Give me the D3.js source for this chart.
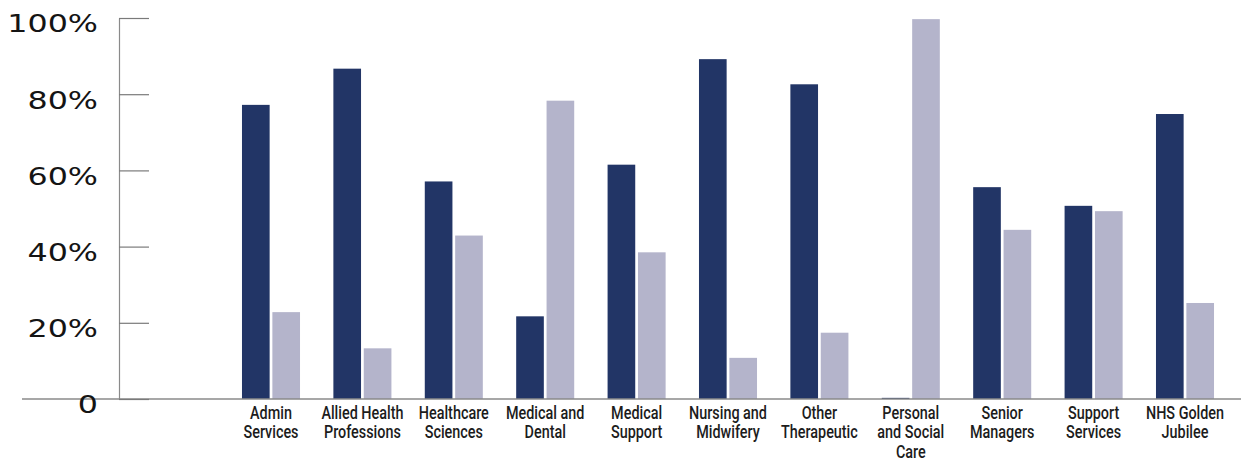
<!DOCTYPE html>
<html>
<head>
<meta charset="utf-8">
<script src="https://cdn.jsdelivr.net/npm/d3@7"></script>
<style>
  html, body { margin: 0; padding: 0; background: #fff; }
  svg { display: block; }
</style>
</head>
<body>
<svg id="chart" width="1241" height="462"></svg>
<script>
// Staff groups and their two percentage shares
const categories = [
  "Admin Services", "Allied Health Professions", "Healthcare Sciences",
  "Medical and Dental", "Medical Support", "Nursing and Midwifery",
  "Other Therapeutic", "Personal and Social Care", "Senior Managers",
  "Support Services", "NHS Golden Jubilee"
];
// How each category name is broken across lines under the axis
const categoryLines = [
  ["Admin", "Services"], ["Allied Health", "Professions"], ["Healthcare", "Sciences"],
  ["Medical and", "Dental"], ["Medical", "Support"], ["Nursing and", "Midwifery"],
  ["Other", "Therapeutic"], ["Personal", "and Social", "Care"], ["Senior", "Managers"],
  ["Support", "Services"], ["NHS Golden", "Jubilee"]
];
const seriesA = [77.2, 86.7, 57.1, 21.7, 61.5, 89.2, 82.6, 0.3, 55.6, 50.7, 74.8];
const seriesB = [22.8, 13.3, 42.9, 78.3, 38.5, 10.8, 17.4, 99.7, 44.4, 49.3, 25.2];
const seriesKeys = ["a", "b"];
const seriesColors = ["#223566", "#b4b4cb"];
const yTicks = [0, 20, 40, 60, 80, 100];
const yTickLabels = ["0", "20%", "40%", "60%", "80%", "100%"];

const svg = d3.select("#chart");

const y = d3.scaleLinear().domain([0, 100]).range([399, 18]);

const x0 = d3.scaleBand()
  .domain(categories)
  .range([225.3, 225.3 + 11 * 91.4])
  .paddingInner(0.365)
  .paddingOuter(0.1825);

const x1 = d3.scaleBand()
  .domain(seriesKeys)
  .range([0, x0.bandwidth()])
  .paddingInner(0.09);

const color = d3.scaleOrdinal().domain(seriesKeys).range(seriesColors);

const rows = categories.map((c, i) => ({ cat: c, a: seriesA[i], b: seriesB[i] }));

// Bars
const groups = svg.append("g")
  .selectAll("g")
  .data(rows)
  .join("g")
  .attr("transform", d => `translate(${x0(d.cat)},0)`);

groups.selectAll("rect")
  .data(d => seriesKeys.map(k => ({ key: k, value: d[k] })))
  .join("rect")
  .attr("x", d => x1(d.key))
  .attr("y", d => y(d.value))
  .attr("width", x1.bandwidth())
  .attr("height", d => y(0) - y(d.value))
  .attr("fill", d => color(d.key));

// Baseline across the chart
svg.append("line")
  .attr("x1", 22).attr("x2", 1241)
  .attr("y1", y(0)).attr("y2", y(0))
  .attr("stroke", "#8a8a8a")
  .attr("stroke-width", 1.4);

// Y axis: ticks point into the plot, labels sit to the left
const yAxis = d3.axisLeft(y)
  .tickValues(yTicks)
  .tickSize(-30)
  .tickSizeOuter(0)
  .tickPadding(21)
  .tickFormat((d, i) => yTickLabels[i]);

const yg = svg.append("g")
  .attr("transform", "translate(119,0)")
  .call(yAxis);

yg.select(".domain").attr("stroke", "#8a8a8a").attr("stroke-width", 1.2);
yg.selectAll(".tick line").attr("stroke", "#7a7a7a").attr("stroke-width", 1.2);
yg.selectAll(".tick text")
  .attr("x", null)
  .attr("dy", null)
  .attr("transform", "translate(-21,7) scale(1.27,1)")
  .attr("dominant-baseline", "middle")
  .attr("text-anchor", "end")
  .attr("fill", "#141414")
  .style("font-family", "'DejaVu Sans', sans-serif")
  .style("font-size", "25px");

// Category labels under the bars
const xAxis = d3.axisBottom(x0).tickSize(0).tickFormat("");
const xg = svg.append("g")
  .attr("transform", `translate(0,${y(0)})`)
  .call(xAxis);
xg.select(".domain").remove();

xg.selectAll(".tick")
  .append("text")
  .attr("transform", "translate(0,20) scale(0.8,1)")
  .attr("text-anchor", "middle")
  .attr("fill", "#1c1c1c")
  .style("font-family", "Roboto, sans-serif")
  .style("font-weight", "500")
  .style("font-size", "18px")
  .each(function (d) {
    const lines = categoryLines[categories.indexOf(d)];
    const t = d3.select(this);
    lines.forEach((ln, i) => {
      t.append("tspan").attr("x", 0).attr("y", i * 19.3).text(ln);
    });
  });
</script>
</body>
</html>
